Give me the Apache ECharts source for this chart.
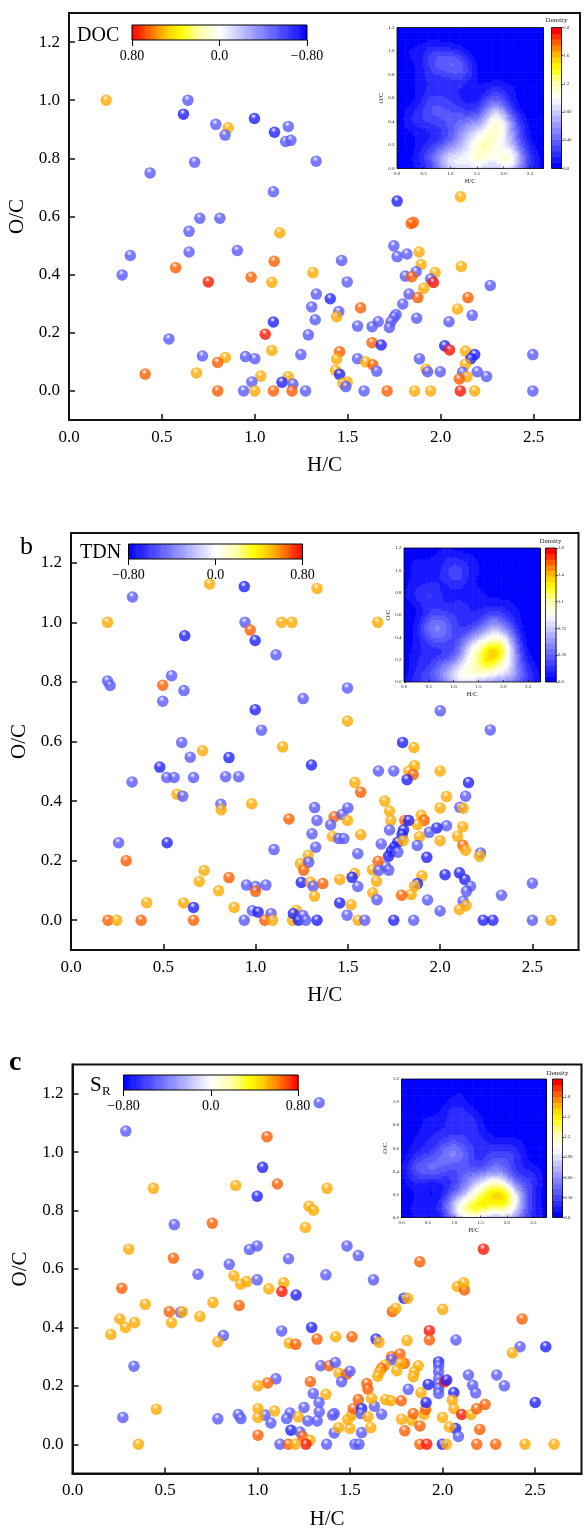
<!DOCTYPE html>
<html>
<head>
<meta charset="utf-8">
<script src="https://cdn.jsdelivr.net/npm/echarts@6/dist/echarts.min.js"></script>
<style>
html,body{margin:0;padding:0;background:#fff;}
#chart{width:584px;height:1537px;}
</style>
</head>
<body>
<div id="chart"></div>
<script>
// Correlation coefficient classes used for the van Krevelen spheres
const O = 0.54, R = 0.66, RR = 0.77, L = -0.52, B = -0.70;

// [H/C, O/C, r] for molecular formulas correlated with DOC
const docPoints = [
[0.20,1.00,O],[0.64,1.00,L],[0.616,0.952,B],[0.79,0.917,L],[0.856,0.905,O],[0.84,0.88,L],[0.998,0.937,B],[1.106,0.89,B],[1.18,0.91,L],[1.166,0.858,L],[1.194,0.862,L],[1.33,0.79,L],[0.436,0.75,L],[0.676,0.787,L],[1.10,0.685,L],[1.766,0.653,B],[2.107,0.668,O],[0.704,0.594,L],[0.812,0.594,L],
[1.853,0.58,R],[1.841,0.576,R],[0.646,0.549,L],[1.134,0.544,O],[0.33,0.466,L],[0.286,0.399,L],[0.646,0.478,L],[0.906,0.483,L],[0.574,0.424,R],[0.75,0.375,RR],[0.98,0.391,R],[1.092,0.374,O],[1.104,0.446,R],
[0.538,0.179,L],[0.718,0.12,L],[0.842,0.115,O],[0.80,0.098,R],[0.41,0.058,R],[0.686,0.062,O],[0.95,0.118,L],[1.0,0.111,L],[1.092,0.139,O],[1.056,0.195,RR],[1.10,0.237,B],[1.032,0.051,O],[1.18,0.049,O],[0.984,0.031,L],[1.146,0.03,B],[0.80,0,R],[0.94,0,L],[1.0,0,O],[1.10,0,R],
[1.748,0.499,L],[1.766,0.462,L],[1.819,0.471,L],[1.884,0.478,O],[1.895,0.435,O],[2.111,0.428,O],[1.467,0.449,L],[1.313,0.407,O],[1.497,0.375,L],[1.868,0.41,L],[1.81,0.395,L],[1.844,0.393,R],[1.97,0.407,O],[1.946,0.385,L],[1.961,0.373,RR],[2.267,0.363,L],[1.909,0.353,O],[1.331,0.333,L],[1.406,0.317,B],[1.83,0.333,L],[1.877,0.321,R],[2.147,0.321,R],[1.796,0.299,L],[1.306,0.289,L],[1.569,0.286,R],[2.091,0.282,O],[1.452,0.273,L],[1.44,0.255,O],[1.325,0.245,L],[2.17,0.26,L],[1.76,0.263,L],[1.75,0.254,L],[1.733,0.238,L],[1.724,0.218,L],[1.664,0.238,L],[1.631,0.221,L],[1.553,0.223,L],[1.871,0.25,L],[2.045,0.238,L],[1.288,0.193,L],[1.631,0.166,R],[1.68,0.158,B],[2.022,0.155,B],[2.048,0.141,RR],[1.248,0.125,L],[1.456,0.135,R],[1.44,0.11,O],[1.553,0.111,L],[1.596,0.10,O],[1.635,0.09,R],[1.656,0.068,L],[1.886,0.111,L],[2.134,0.137,O],[2.183,0.125,B],[2.163,0.111,B],[2.133,0.092,O],[2.496,0.125,L],[1.434,0.071,O],[1.456,0.057,B],[1.921,0.075,O],[1.93,0.066,L],[1.998,0.066,L],[2.118,0.064,L],[2.197,0.066,L],[2.247,0.05,L],[2.142,0.049,O],[2.1,0.041,R],[1.497,0.031,O],[1.474,0.026,O],[1.49,0.015,L],[1.205,0.024,L],[1.20,0,R],[1.273,0,L],[1.588,0,L],[1.712,0,R],[1.86,0,O],[1.946,0,O],[2.106,0,RR],[2.183,0,O],[2.496,0,L]
];

// [H/C, O/C, r] for molecular formulas correlated with TDN
const tdnPoints = [
[0.198,1.0,O],[0.333,1.085,L],[0.751,1.129,O],[0.939,1.12,B],[1.333,1.114,O],[0.943,1.0,L],[0.971,0.974,R],[1.141,1.0,O],[1.197,1.0,O],[1.662,1.0,O],[0.616,0.955,B],[0.998,0.939,B],[1.111,0.891,L],[0.198,0.803,L],[0.212,0.788,L],[0.545,0.821,L],[0.497,0.789,R],[0.612,0.771,L],[0.497,0.735,L],[1.498,0.78,L],[1.258,0.744,L],[0.998,0.707,B],[1.498,0.669,O],[2.001,0.703,L],[1.032,0.638,L],[2.272,0.639,L],
[0.60,0.597,L],[0.713,0.569,O],[1.147,0.582,O],[0.481,0.514,B],[0.856,0.546,B],[0.646,0.547,L],[0.519,0.479,L],[0.559,0.479,L],[0.664,0.479,L],[0.838,0.482,L],[0.909,0.482,L],[1.303,0.521,B],[0.331,0.464,L],[0.574,0.423,O],[0.606,0.416,L],[0.812,0.389,L],[0.814,0.371,O],[0.979,0.391,O],[1.181,0.34,R],[0.258,0.26,L],[0.521,0.26,B],[1.10,0.237,L],[0.299,0.20,R],[0.721,0.167,O],[0.695,0.13,O],[0.856,0.143,R],[0.80,0.099,O],[0.41,0.059,O],[0.61,0.058,O],[0.664,0.043,B],[0.884,0.043,O],[0.951,0.118,L],[1.0,0.113,L],[1.056,0.118,L],[1.0,0.097,R],[0.983,0.032,L],[1.014,0.027,B],[1.084,0.022,L],[0.20,0,R],[0.248,0,O],[0.38,0,R],[0.664,0,R],[0.939,0,L],[1.05,0,R],[1.092,0,O],[1.20,0,O],[1.797,0.597,B],[1.858,0.58,O],
[1.666,0.501,L],[1.749,0.501,L],[1.861,0.519,O],[1.83,0.50,O],[1.854,0.489,R],[1.821,0.472,B],[2.0,0.501,O],[2.154,0.462,B],[1.538,0.462,O],[1.57,0.43,R],[2.138,0.416,L],[2.035,0.415,O],[1.70,0.40,O],[1.32,0.378,L],[1.50,0.377,L],[2.0,0.377,O],[2.107,0.379,L],[2.125,0.376,O],[1.726,0.366,O],[1.426,0.347,R],[1.469,0.355,L],[1.498,0.335,O],[1.333,0.335,L],[1.733,0.335,O],[1.809,0.335,R],[1.898,0.352,O],[1.914,0.335,R],[1.877,0.321,O],[1.83,0.335,B],[2.035,0.317,L],[1.982,0.31,B],[2.123,0.314,O],[1.407,0.32,L],[1.726,0.303,L],[1.802,0.303,B],[1.941,0.295,L],[1.306,0.29,L],[1.417,0.281,O],[1.451,0.274,L],[1.478,0.274,L],[1.57,0.287,O],[1.888,0.28,O],[2.0,0.267,O],[2.094,0.282,O],
[1.721,0.215,B],[1.736,0.232,B],[1.753,0.246,B],[1.771,0.262,B],[1.794,0.288,B],
[1.80,0.267,O],[1.876,0.251,L],[1.326,0.245,L],[1.681,0.256,L],[1.554,0.223,L],[2.123,0.252,R],[2.138,0.235,O],[2.219,0.226,L],[2.214,0.215,O],[1.928,0.211,B],[1.771,0.228,L],[1.704,0.181,L],[1.722,0.168,L],[1.664,0.198,R],[1.633,0.169,O],[1.667,0.167,L],[1.285,0.217,O],[1.243,0.19,O],[1.288,0.195,L],[1.261,0.168,R],[1.537,0.157,O],[1.523,0.144,B],[1.456,0.137,O],[1.248,0.127,B],[1.297,0.128,O],[1.312,0.114,L],[1.364,0.123,R],[1.319,0.081,O],[1.554,0.113,L],[1.655,0.131,O],[1.635,0.092,O],[1.658,0.069,L],[1.901,0.149,O],[1.877,0.123,B],[1.861,0.114,O],[1.843,0.086,O],[1.791,0.084,R],[2.027,0.153,B],[2.105,0.159,B],[2.134,0.137,B],[2.165,0.114,L],[2.143,0.097,L],[2.125,0.064,L],[2.141,0.049,O],[2.105,0.036,O],[2.333,0.084,L],[2.5,0.124,L],[1.932,0.068,L],[2.0,0.031,L],[1.456,0.058,B],[1.518,0.052,O],[1.496,0.017,L],[1.221,0.033,O],[1.205,0.022,B],[1.233,0,B],[1.257,0.016,L],[1.272,0,L],[1.333,0,B],[1.556,0,O],[1.592,0,L],[1.749,0,B],[1.857,0,L],[2.234,0,B],[2.286,0,B],[2.5,0,L],[2.60,0,O]
];

// [H/C, O/C, r] for molecular formulas correlated with S_R
const srPoints = [
[0.288,1.072,L],[1.333,1.169,L],[1.051,1.053,R],[1.027,0.948,B],[0.437,0.876,O],[0.882,0.886,O],[1.107,0.891,R],[1.375,0.876,O],[0.998,0.849,B],[1.278,0.815,O],[1.302,0.801,O],[0.55,0.752,L],[0.755,0.757,R],[1.258,0.742,O],
[0.304,0.668,O],[0.545,0.637,R],[0.956,0.667,L],[0.998,0.679,L],[1.483,0.679,L],[1.544,0.646,L],[2.22,0.668,RR],[0.678,0.582,L],[0.847,0.616,L],[0.872,0.577,O],[0.908,0.548,O],[0.942,0.557,O],[0.998,0.563,L],[1.061,0.532,O],[1.141,0.553,O],[1.131,0.523,RR],[1.208,0.511,B],[1.167,0.635,L],[1.369,0.58,L],[1.626,0.563,L],[1.876,0.625,R],[0.266,0.534,R],[1.791,0.5,B],[1.811,0.5,O],[2.079,0.54,O],[2.118,0.528,R],[2.114,0.553,O],
[0.393,0.479,O],[0.759,0.485,O],[0.523,0.454,R],[0.584,0.452,L],[0.594,0.454,O],[0.535,0.416,O],[0.256,0.429,O],[0.286,0.40,O],[0.336,0.417,O],[0.207,0.376,O],[0.688,0.437,O],[0.815,0.372,L],[0.785,0.351,O],[0.332,0.267,L],[0.453,0.12,O],[0.272,0.092,L],[0.356,0,O],[0.785,0.087,L],[0.896,0.102,L],[0.91,0.088,L],[0.90,0.475,R],
[1.728,0.454,R],[1.747,0.465,O],[2.0,0.462,O],[2.429,0.429,R],[1.13,0.388,L],[1.292,0.40,B],[1.171,0.346,O],[1.206,0.342,R],[1.321,0.36,R],[1.422,0.368,O],[1.51,0.368,R],[1.64,0.36,B],[1.656,0.349,O],[1.807,0.355,O],[1.928,0.389,RR],[1.928,0.357,R],[2.072,0.357,L],[2.418,0.334,L],[2.376,0.313,O],[2.557,0.334,B],
[1.724,0.30,R],[1.769,0.309,R],[1.793,0.277,R],[1.724,0.289,L],[1.688,0.271,O],[1.67,0.26,R],[1.658,0.248,O],[1.649,0.233,O],[1.773,0.277,O],[1.752,0.252,O],[1.868,0.269,O],[1.847,0.248,O],[1.841,0.231,O],
[1.978,0.282,B],[1.978,0.268,L],[1.978,0.248,L],[1.978,0.225,L],[1.978,0.208,L],[1.978,0.191,L],[1.978,0.174,L],
[2.012,0.214,RR],[2.022,0.22,B],[1.922,0.205,B],[1.814,0.188,L],[1.883,0.176,O],[2.139,0.237,L],[2.292,0.237,L],[2.162,0.202,L],[2.178,0.176,L],[2.333,0.2,L],[2.06,0.177,B],[2.5,0.143,B],
[1.341,0.269,L],[1.386,0.269,R],[1.42,0.28,L],[1.44,0.243,O],[1.481,0.24,R],[1.499,0.25,L],[1.454,0.214,L],[1.285,0.214,R],[1.369,0.171,O],[1.301,0.174,L],[1.099,0.224,L],[1.054,0.21,R],[1.002,0.2,O],[1.59,0.208,R],[1.596,0.189,R],
[1.332,0.143,L],[1.333,0.111,L],[1.251,0.126,L],[1.175,0.107,L],[1.157,0.088,L],[1.22,0.094,O],[1.041,0.1,L],[1.072,0.073,L],[1.002,0.122,O],[1.002,0.092,O],[1.092,0.114,O],[1.002,0.031,R],[1.18,0.048,B],[1.229,0.042,L],[1.243,0.027,R],[1.283,0.014,O],[1.261,0,RR],[1.121,0,L],[1.166,0,R],[1.202,0,O],[1.272,0.08,L],[1.322,0.08,L],[1.373,0,L],[1.526,0,L],[1.548,0,L],[1.414,0.105,L],[1.405,0.1,L],[1.414,0.039,L],[1.438,0.057,O],[1.562,0.04,L],[1.499,0.054,O],[1.487,0.085,O],[1.508,0.1,O],[1.517,0.122,R],[1.544,0.153,R],[1.562,0.122,B],[1.559,0.105,L],[1.596,0.094,O],[1.611,0.057,O],[1.631,0.13,L],[1.67,0.103,L],[1.616,0.157,O],[1.692,0.153,O],[1.721,0.149,O],[1.776,0.149,R],[1.778,0.086,O],[1.795,0.046,R],[1.832,0.082,O],[1.841,0.105,R],[1.877,0.063,R],[1.9,0.102,O],[1.908,0.119,R],[1.91,0.143,B],[2.052,0.151,O],[2.061,0.122,O],[1.999,0.092,O],[2.103,0.102,RR],[2.153,0.102,O],[2.184,0.122,R],[2.229,0.136,R],[2.2,0.051,R],[2.07,0.054,B],[2.085,0.027,L],[2.036,0.059,O],[1.877,0,R],[1.914,0,RR],[1.998,0,B],[2.02,0,O],[2.184,0,R],[2.286,0,R],[2.445,0,O],[2.602,0,O]
];

// Axis tick values
const X_TICKS = [0, 0.5, 1.0, 1.5, 2.0, 2.5];
const Y_TICKS = [0, 0.2, 0.4, 0.6, 0.8, 1.0, 1.2];
const R_TICKS = [-0.8, 0, 0.8];
const DENS_TICKS_DOC = [0, 0.4, 0.8, 1.2, 1.6, 2.0];
const DENS_TICKS_TDN = [0, 0.36, 0.72, 1.08, 1.44, 1.8];
const DENS_TICKS_SR = [0, 0.3, 0.6, 0.9, 1.2, 1.5, 1.8];
const DENS_MAX = { DOC: 2.0, TDN: 1.8, SR: 2.07 };

// ---------------- colour helpers ----------------
const STOPS = [
  [0, [0, 0, 255]], [0.5, [255, 255, 255]], [0.62, [255, 255, 170]], [0.72, [255, 255, 0]],
  [0.8, [255, 205, 0]], [0.86, [255, 150, 0]], [0.93, [255, 75, 0]], [1, [255, 0, 0]]
];
function cmapRGB(t) {
  t = Math.max(0, Math.min(1, t));
  for (let i = 1; i < STOPS.length; i++) {
    if (t <= STOPS[i][0]) {
      const a = STOPS[i - 1], b = STOPS[i];
      const f = (t - a[0]) / (b[0] - a[0]);
      return a[1].map((c, k) => Math.round(c + (b[1][k] - c) * f));
    }
  }
  return STOPS[STOPS.length - 1][1];
}
const rgb = c => `rgb(${c[0]},${c[1]},${c[2]})`;
const mix = (c, d, f) => c.map((v, k) => Math.round(v + (d[k] - v) * f));
function sphereFill(r) {
  const c = cmapRGB((r + 0.8) / 1.6);
  return {
    type: 'radial', x: 0.42, y: 0.3, r: 0.78,
    colorStops: [
      { offset: 0, color: '#ffffff' },
      { offset: 0.12, color: rgb(mix(c, [255, 255, 255], 0.55)) },
      { offset: 0.32, color: rgb(c) },
      { offset: 0.82, color: rgb(c) },
      { offset: 1, color: rgb(mix(c, [0, 0, 0], 0.22)) }
    ]
  };
}

// ---------------- kernel density of the formulas ----------------
const N_BANDS = 24;
const BW_SCALE = 0.78;
function densityCells(points, dmax) {
  const n = points.length;
  const xs = points.map(p => p[0]), ys = points.map(p => p[1]);
  const mean = a => a.reduce((s, v) => s + v, 0) / a.length;
  const sd = a => { const m = mean(a); return Math.sqrt(a.reduce((s, v) => s + (v - m) * (v - m), 0) / (a.length - 1)); };
  const f = Math.pow(n, -1 / 6) * BW_SCALE;
  const hx = sd(xs) * f, hy = sd(ys) * f;
  const norm = 1 / (n * 2 * Math.PI * hx * hy);
  const nx = 80, ny = 60, dx = 2.75 / nx, dy = 1.2 / ny, cells = [];
  for (let i = 0; i < nx; i++) {
    for (let j = 0; j < ny; j++) {
      const x0 = i * dx, y0 = j * dy, cx = x0 + dx / 2, cy = y0 + dy / 2;
      let s = 0;
      for (let k = 0; k < n; k++) {
        const u = (cx - xs[k]) / hx, v = (cy - ys[k]) / hy;
        s += Math.exp(-0.5 * (u * u + v * v));
      }
      const d = s * norm;
      const band = Math.min(N_BANDS - 1, Math.floor(d / (dmax / N_BANDS)));
      cells.push([x0, y0, x0 + dx, y0 + dy, band]);
    }
  }
  return cells;
}
const BAND_COLORS = Array.from({ length: N_BANDS }, (_, i) => rgb(cmapRGB(i / (N_BANDS - 1))));

// ---------------- layout ----------------
const SERIF = '"Liberation Serif", "Times New Roman", serif';
const panels = [
  { key: 'DOC', pts: docPoints, dticks: DENS_TICKS_DOC, inverse: true,
    main: { left: 69, top: 13, width: 511, height: 407 },
    inset: { left: 397, top: 27.5, width: 146.5, height: 141 },
    dbar: { left: 551.5, top: 27.5, width: 10, height: 141 },
    rbar: { left: 132, top: 25, width: 175, height: 15 } },
  { key: 'TDN', pts: tdnPoints, dticks: DENS_TICKS_TDN, inverse: false,
    main: { left: 71, top: 533, width: 507.5, height: 417 },
    inset: { left: 404, top: 548, width: 136.5, height: 134 },
    dbar: { left: 545.5, top: 548, width: 10.5, height: 134 },
    rbar: { left: 128.5, top: 544, width: 174, height: 15 } },
  { key: 'SR', pts: srPoints, dticks: DENS_TICKS_SR, inverse: false,
    main: { left: 72.5, top: 1064.5, width: 509, height: 409 },
    inset: { left: 401.5, top: 1079, width: 145, height: 138.5 },
    dbar: { left: 552.5, top: 1079, width: 10, height: 138.5 },
    rbar: { left: 123.5, top: 1075, width: 174.5, height: 15 } }
];

const densLabel = v => (v > 0 && v < 1) ? v.toFixed(2) : v.toFixed(1);
const rLabel = v => v === 0 ? '0.0' : (v < 0 ? '\u22120.80' : '0.80');

const grid = [], xAxis = [], yAxis = [], series = [];
panels.forEach(p => {
  const gMain = grid.length;
  grid.push(Object.assign({ show: true, borderColor: '#111', borderWidth: 2, backgroundColor: 'transparent', outerBoundsMode: 'none', containLabel: false, z: 0 }, p.main));
  const gInset = grid.length;
  grid.push(Object.assign({ show: true, borderColor: '#000', borderWidth: 0.8, backgroundColor: 'transparent', outerBoundsMode: 'none', containLabel: false, z: 9 }, p.inset));
  const gDbar = grid.length;
  grid.push(Object.assign({ show: true, borderColor: '#000', borderWidth: 0.8, backgroundColor: 'transparent', outerBoundsMode: 'none', containLabel: false, z: 9 }, p.dbar));
  const gRbar = grid.length;
  grid.push(Object.assign({ show: true, borderColor: '#000', borderWidth: 1, backgroundColor: 'transparent', outerBoundsMode: 'none', containLabel: false, z: 9 }, p.rbar));

  // main van Krevelen axes
  xAxis.push({ gridIndex: gMain, type: 'value', min: 0, max: 2.75, name: 'H/C', nameLocation: 'middle', nameGap: 35,
    nameTextStyle: { fontFamily: SERIF, fontSize: 21, color: '#000' },
    axisLine: { show: true, onZero: false, lineStyle: { color: '#111', width: 2 } },
    axisTick: { show: true, inside: true, length: 6, customValues: X_TICKS, lineStyle: { color: '#111', width: 1.5 } },
    axisLabel: { customValues: X_TICKS, formatter: v => v.toFixed(1), fontFamily: SERIF, fontSize: 17, color: '#000', margin: 9 },
    splitLine: { show: false } });
  yAxis.push({ gridIndex: gMain, type: 'value', min: -0.1, max: 1.3, name: 'O/C', nameLocation: 'middle', nameGap: 36,
    nameTextStyle: { fontFamily: SERIF, fontSize: 21, color: '#000' },
    axisLine: { show: true, onZero: false, lineStyle: { color: '#111', width: 2 } },
    axisTick: { show: true, inside: true, length: 6, customValues: Y_TICKS, lineStyle: { color: '#111', width: 1.5 } },
    axisLabel: { customValues: Y_TICKS, formatter: v => v.toFixed(1), fontFamily: SERIF, fontSize: 17, color: '#000', margin: 9 },
    splitLine: { show: false } });
  const axMain = xAxis.length - 1;

  // inset density axes
  xAxis.push({ gridIndex: gInset, type: 'value', min: 0, max: 2.75, z: 9, name: 'H/C', nameLocation: 'middle', nameGap: 9,
    nameTextStyle: { fontFamily: SERIF, fontSize: 6.5, color: '#222' },
    axisLine: { show: false, onZero: false },
    axisTick: { show: true, inside: true, length: 2, customValues: X_TICKS, lineStyle: { color: '#000', width: 0.6 } },
    axisLabel: { customValues: X_TICKS, formatter: v => v.toFixed(1), fontFamily: SERIF, fontSize: 5, color: '#222', margin: 2.5 },
    splitLine: { show: false } });
  yAxis.push({ gridIndex: gInset, type: 'value', min: 0, max: 1.2, z: 9, name: 'O/C', nameLocation: 'middle', nameGap: 12,
    nameTextStyle: { fontFamily: SERIF, fontSize: 6.5, color: '#222' },
    axisLine: { show: false, onZero: false },
    axisTick: { show: true, inside: true, length: 2, customValues: Y_TICKS, lineStyle: { color: '#000', width: 0.6 } },
    axisLabel: { customValues: Y_TICKS, formatter: v => v.toFixed(1), fontFamily: SERIF, fontSize: 5, color: '#222', margin: 2.5 },
    splitLine: { show: false } });
  const axInset = xAxis.length - 1;

  // inset density colour bar
  const dmax = DENS_MAX[p.key];
  xAxis.push({ gridIndex: gDbar, type: 'value', min: 0, max: 1, show: false });
  yAxis.push({ gridIndex: gDbar, type: 'value', min: 0, max: dmax, position: 'right', z: 9,
    axisLine: { show: false, onZero: false },
    axisTick: { show: true, inside: false, length: 2, customValues: p.dticks, lineStyle: { color: '#000', width: 0.6 } },
    axisLabel: { customValues: p.dticks, formatter: densLabel, fontFamily: SERIF, fontSize: 4.5, color: '#222', margin: 2 },
    splitLine: { show: false } });
  const axDbar = xAxis.length - 1;

  // correlation colour bar
  xAxis.push({ gridIndex: gRbar, type: 'value', min: -0.8, max: 0.8, inverse: p.inverse, position: 'bottom', z: 9,
    axisLine: { show: false, onZero: false },
    axisTick: { show: true, inside: false, length: 6, customValues: R_TICKS, lineStyle: { color: '#000', width: 1 } },
    axisLabel: { customValues: R_TICKS, formatter: rLabel, fontFamily: SERIF, fontSize: 14, color: '#000', margin: 9 },
    splitLine: { show: false } });
  yAxis.push({ gridIndex: gRbar, type: 'value', min: 0, max: 1, show: false });
  const axRbar = xAxis.length - 1;

  // spheres
  series.push({
    type: 'scatter', xAxisIndex: axMain, yAxisIndex: axMain, z: 2, symbolSize: 11.5,
    data: p.pts.map(d => ({ value: d, itemStyle: { color: sphereFill(d[2]) } }))
  });

  const rectItem = (params, api) => {
    const a = api.coord([api.value(0), api.value(1)]);
    const b = api.coord([api.value(2), api.value(3)]);
    return {
      type: 'rect',
      shape: { x: Math.min(a[0], b[0]), y: Math.min(a[1], b[1]), width: Math.abs(b[0] - a[0]) + 0.6, height: Math.abs(b[1] - a[1]) + 0.6 },
      style: { fill: BAND_COLORS[api.value(4)] }
    };
  };

  // density map
  series.push({
    type: 'custom', xAxisIndex: axInset, yAxisIndex: axInset, z: 6, clip: true, progressive: 0,
    encode: { x: [0, 2], y: [1, 3] },
    data: densityCells(p.pts, dmax),
    renderItem: rectItem
  });

  // density bands in the colour bar
  const step = dmax / N_BANDS;
  series.push({
    type: 'custom', xAxisIndex: axDbar, yAxisIndex: axDbar, z: 6, clip: true,
    encode: { x: [0, 2], y: [1, 3] },
    data: Array.from({ length: N_BANDS }, (_, i) => [0, i * step, 1, (i + 1) * step, i]),
    renderItem: rectItem
  });

  // continuous correlation ramp
  const nSeg = 160;
  series.push({
    type: 'custom', xAxisIndex: axRbar, yAxisIndex: axRbar, z: 6, clip: true,
    encode: { x: [0, 2], y: [1, 3] },
    data: Array.from({ length: nSeg }, (_, i) => [-0.8 + 1.6 * i / nSeg, 0, -0.8 + 1.6 * (i + 1) / nSeg, 1, (i + 0.5) / nSeg]),
    renderItem: (params, api) => {
      const a = api.coord([api.value(0), api.value(1)]);
      const b = api.coord([api.value(2), api.value(3)]);
      return {
        type: 'rect',
        shape: { x: Math.min(a[0], b[0]), y: Math.min(a[1], b[1]), width: Math.abs(b[0] - a[0]) + 0.6, height: Math.abs(b[1] - a[1]) },
        style: { fill: rgb(cmapRGB(api.value(4))) }
      };
    }
  });
});

const txt = (text, x, y, size, opts) => ({
  type: 'text', x, y, z: 20,
  style: Object.assign({ text, fontFamily: SERIF, fontSize: size, fill: '#000', align: 'left', verticalAlign: 'middle' }, opts || {})
});

const graphic = [
  txt('DOC', 77, 36, 20),
  txt('TDN', 80, 553, 20),
  txt('S', 90, 1085, 21),
  txt('R', 102, 1092, 13),
  txt('b', 20, 547, 26),
  txt('c', 9, 1063, 28, { fontWeight: 'bold' }),
  txt('Density', 556.5, 20.5, 7, { align: 'center', fill: '#222' }),
  txt('Density', 550.5, 541, 7, { align: 'center', fill: '#222' }),
  txt('Density', 557.5, 1073, 7, { align: 'center', fill: '#222' })
];

const chart = echarts.init(document.getElementById('chart'), null, { renderer: 'canvas' });
chart.setOption({
  animation: false,
  backgroundColor: '#ffffff',
  textStyle: { fontFamily: SERIF },
  grid, xAxis, yAxis, series, graphic
});
</script>
</body>
</html>
